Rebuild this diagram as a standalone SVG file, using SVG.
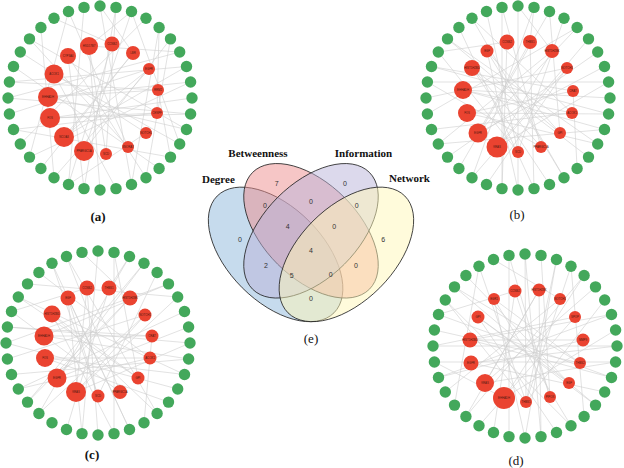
<svg xmlns="http://www.w3.org/2000/svg" width="624" height="468" viewBox="0 0 624 468">
<style>
.gn{fill:#43a85b}
.rn{fill:#ea4330}
.rl{font-family:"Liberation Sans",Arial,sans-serif;font-size:2.8px;fill:#4a1a10;text-anchor:middle}
.ed line{stroke:#cfcfcf;stroke-width:.6}
.pl{font-family:"Liberation Serif","Times New Roman",serif;font-size:13px;text-anchor:middle;fill:#111}
.vl{font-family:"Liberation Serif","Times New Roman",serif;font-size:11px;font-weight:bold;fill:#111}
.vn{font-family:"Liberation Sans",Arial,sans-serif;font-size:7px;text-anchor:middle;fill:#333}
.ve{stroke:#222;stroke-width:.8;fill-opacity:.5}
</style>
<rect width="624" height="468" fill="#fff"/>

<!-- Panel (a) -->
<g id="panel-a" transform="translate(100,98)">
<g id="a-edges" class="ed">
<line x1="-11" y1="-52" x2="0" y2="92"/><line x1="-11" y1="-52" x2="31.5" y2="-86.5"/><line x1="12" y1="-54" x2="-31.5" y2="86.5"/><line x1="12" y1="-54" x2="-46" y2="-79.7"/><line x1="33" y1="-45" x2="-59.1" y2="70.5"/><line x1="33" y1="-45" x2="0" y2="-92"/><line x1="49" y1="-29" x2="-90.6" y2="16"/><line x1="58" y1="-8" x2="-90.6" y2="-16"/><line x1="58" y1="-8" x2="70.5" y2="59.1"/><line x1="57" y1="15" x2="-86.5" y2="31.5"/><line x1="57" y1="15" x2="59.1" y2="-70.5"/><line x1="46" y1="35" x2="-79.7" y2="-46"/><line x1="28" y1="49" x2="-31.5" y2="-86.5"/><line x1="6" y1="56" x2="16" y2="-90.6"/><line x1="-16" y1="53" x2="70.5" y2="-59.1"/><line x1="-36" y1="39" x2="86.5" y2="-31.5"/><line x1="-50" y1="20" x2="92" y2="0"/><line x1="-50" y1="20" x2="90.6" y2="16"/><line x1="-52" y1="-1" x2="90.6" y2="-16"/><line x1="-52" y1="-1" x2="86.5" y2="31.5"/><line x1="-46" y1="-24" x2="79.7" y2="46"/><line x1="-46" y1="-24" x2="16" y2="90.6"/><line x1="-32" y1="-42" x2="46" y2="79.7"/><line x1="-32" y1="-42" x2="-16" y2="90.6"/><line x1="-11" y1="-52" x2="6" y2="56"/><line x1="-52" y1="-1" x2="58" y2="-8"/><line x1="-50" y1="20" x2="57" y2="15"/><line x1="-36" y1="39" x2="49" y2="-29"/><line x1="0" y1="-92" x2="31.5" y2="86.5"/><line x1="-16" y1="-90.6" x2="-31.5" y2="86.5"/><line x1="46" y1="-79.7" x2="-79.7" y2="46"/><line x1="79.7" y1="-46" x2="-92" y2="0"/><line x1="-86.5" y1="-31.5" x2="59.1" y2="70.5"/><line x1="-70.5" y1="-59.1" x2="86.5" y2="31.5"/><line x1="-59.1" y1="-70.5" x2="-46" y2="79.7"/><line x1="31.5" y1="-86.5" x2="79.7" y2="46"/><line x1="16" y1="-90.6" x2="-16" y2="90.6"/><line x1="31.5" y1="86.5" x2="59.1" y2="-70.5"/><line x1="-70.5" y1="59.1" x2="90.6" y2="-16"/><line x1="-86.5" y1="31.5" x2="70.5" y2="59.1"/><line x1="-92" y1="0" x2="90.6" y2="16"/><line x1="-31.5" y1="-86.5" x2="-70.5" y2="59.1"/><line x1="49" y1="-29" x2="-46" y2="79.7"/><line x1="46" y1="35" x2="-31.5" y2="86.5"/><line x1="28" y1="49" x2="-70.5" y2="-59.1"/><line x1="-16" y1="53" x2="31.5" y2="-86.5"/><line x1="33" y1="-45" x2="-36" y2="39"/><line x1="-11" y1="-52" x2="79.7" y2="-46"/><line x1="70.5" y1="-59.1" x2="46" y2="79.7"/><line x1="-90.6" y1="-16" x2="86.5" y2="-31.5"/>
</g>
<g id="a-o0"><circle class="gn" cx="0" cy="-92" r="5.7"/></g>
<g id="a-o1"><circle class="gn" cx="16" cy="-90.6" r="5.7"/></g>
<g id="a-o2"><circle class="gn" cx="31.5" cy="-86.5" r="5.7"/></g>
<g id="a-o3"><circle class="gn" cx="46" cy="-79.7" r="5.7"/></g>
<g id="a-o4"><circle class="gn" cx="59.1" cy="-70.5" r="5.7"/></g>
<g id="a-o5"><circle class="gn" cx="70.5" cy="-59.1" r="5.7"/></g>
<g id="a-o6"><circle class="gn" cx="79.7" cy="-46" r="5.7"/></g>
<g id="a-o7"><circle class="gn" cx="86.5" cy="-31.5" r="5.7"/></g>
<g id="a-o8"><circle class="gn" cx="90.6" cy="-16" r="5.7"/></g>
<g id="a-o9"><circle class="gn" cx="92" cy="0" r="5.7"/></g>
<g id="a-o10"><circle class="gn" cx="90.6" cy="16" r="5.7"/></g>
<g id="a-o11"><circle class="gn" cx="86.5" cy="31.5" r="5.7"/></g>
<g id="a-o12"><circle class="gn" cx="79.7" cy="46" r="5.7"/></g>
<g id="a-o13"><circle class="gn" cx="70.5" cy="59.1" r="5.7"/></g>
<g id="a-o14"><circle class="gn" cx="59.1" cy="70.5" r="5.7"/></g>
<g id="a-o15"><circle class="gn" cx="46" cy="79.7" r="5.7"/></g>
<g id="a-o16"><circle class="gn" cx="31.5" cy="86.5" r="5.7"/></g>
<g id="a-o17"><circle class="gn" cx="16" cy="90.6" r="5.7"/></g>
<g id="a-o18"><circle class="gn" cx="0" cy="92" r="5.7"/></g>
<g id="a-o19"><circle class="gn" cx="-16" cy="90.6" r="5.7"/></g>
<g id="a-o20"><circle class="gn" cx="-31.5" cy="86.5" r="5.7"/></g>
<g id="a-o21"><circle class="gn" cx="-46" cy="79.7" r="5.7"/></g>
<g id="a-o22"><circle class="gn" cx="-59.1" cy="70.5" r="5.7"/></g>
<g id="a-o23"><circle class="gn" cx="-70.5" cy="59.1" r="5.7"/></g>
<g id="a-o24"><circle class="gn" cx="-79.7" cy="46" r="5.7"/></g>
<g id="a-o25"><circle class="gn" cx="-86.5" cy="31.5" r="5.7"/></g>
<g id="a-o26"><circle class="gn" cx="-90.6" cy="16" r="5.7"/></g>
<g id="a-o27"><circle class="gn" cx="-92" cy="0" r="5.7"/></g>
<g id="a-o28"><circle class="gn" cx="-90.6" cy="-16" r="5.7"/></g>
<g id="a-o29"><circle class="gn" cx="-86.5" cy="-31.5" r="5.7"/></g>
<g id="a-o30"><circle class="gn" cx="-79.7" cy="-46" r="5.7"/></g>
<g id="a-o31"><circle class="gn" cx="-70.5" cy="-59.1" r="5.7"/></g>
<g id="a-o32"><circle class="gn" cx="-59.1" cy="-70.5" r="5.7"/></g>
<g id="a-o33"><circle class="gn" cx="-46" cy="-79.7" r="5.7"/></g>
<g id="a-o34"><circle class="gn" cx="-31.5" cy="-86.5" r="5.7"/></g>
<g id="a-o35"><circle class="gn" cx="-16" cy="-90.6" r="5.7"/></g>
<g id="a-r0"><circle class="rn" cx="-11" cy="-52" r="9"/><text class="rl" x="-11" y="-51">HSD17B7</text></g>
<g id="a-r1"><circle class="rn" cx="12" cy="-54" r="7.5"/><text class="rl" x="12" y="-53">CCNB2</text></g>
<g id="a-r2"><circle class="rn" cx="33" cy="-45" r="7"/><text class="rl" x="33" y="-44">LBR</text></g>
<g id="a-r3"><circle class="rn" cx="49" cy="-29" r="6"/><text class="rl" x="49" y="-28">EGFR</text></g>
<g id="a-r4"><circle class="rn" cx="58" cy="-8" r="6"/><text class="rl" x="58" y="-7">RRM2</text></g>
<g id="a-r5"><circle class="rn" cx="57" cy="15" r="6"/><text class="rl" x="57" y="16">CENPF</text></g>
<g id="a-r6"><circle class="rn" cx="46" cy="35" r="6"/><text class="rl" x="46" y="36">NOTCH1</text></g>
<g id="a-r7"><circle class="rn" cx="28" cy="49" r="6"/><text class="rl" x="28" y="50">SNORA7</text></g>
<g id="a-r8"><circle class="rn" cx="6" cy="56" r="6"/><text class="rl" x="6" y="57">SCD</text></g>
<g id="a-r9"><circle class="rn" cx="-16" cy="53" r="10"/><text class="rl" x="-16" y="54">PPARGC1A</text></g>
<g id="a-r10"><circle class="rn" cx="-36" cy="39" r="10"/><text class="rl" x="-36" y="40">NCOA3</text></g>
<g id="a-r11"><circle class="rn" cx="-50" cy="20" r="10"/><text class="rl" x="-50" y="21">FOS</text></g>
<g id="a-r12"><circle class="rn" cx="-52" cy="-1" r="10"/><text class="rl" x="-52" y="0">EHHADH</text></g>
<g id="a-r13"><circle class="rn" cx="-46" cy="-24" r="9.5"/><text class="rl" x="-46" y="-23">ACOX1</text></g>
<g id="a-r14"><circle class="rn" cx="-32" cy="-42" r="8"/><text class="rl" x="-32" y="-41">CYP3A4</text></g>
</g>

<!-- Panel (b) -->
<g id="panel-b" transform="translate(518,98)">
<g id="b-edges" class="ed">
<line x1="-11" y1="-56" x2="-16" y2="90.6"/><line x1="-11" y1="-56" x2="-79.7" y2="-46"/><line x1="12" y1="-56" x2="16" y2="90.6"/><line x1="12" y1="-56" x2="16" y2="-90.6"/><line x1="34" y1="-47" x2="-79.7" y2="46"/><line x1="34" y1="-47" x2="0" y2="-92"/><line x1="49" y1="-30" x2="-92" y2="0"/><line x1="49" y1="-30" x2="-46" y2="79.7"/><line x1="55" y1="-7" x2="-86.5" y2="-31.5"/><line x1="55" y1="-7" x2="59.1" y2="70.5"/><line x1="54" y1="15" x2="-86.5" y2="31.5"/><line x1="54" y1="15" x2="-46" y2="-79.7"/><line x1="42" y1="35" x2="-70.5" y2="-59.1"/><line x1="42" y1="35" x2="31.5" y2="-86.5"/><line x1="23" y1="49" x2="-16" y2="-90.6"/><line x1="0" y1="54" x2="46" y2="-79.7"/><line x1="0" y1="54" x2="-31.5" y2="-86.5"/><line x1="-21" y1="49" x2="70.5" y2="-59.1"/><line x1="-21" y1="49" x2="90.6" y2="-16"/><line x1="-40" y1="35" x2="86.5" y2="-31.5"/><line x1="-40" y1="35" x2="59.1" y2="-70.5"/><line x1="-51" y1="15" x2="90.6" y2="16"/><line x1="-51" y1="15" x2="79.7" y2="46"/><line x1="-55" y1="-8" x2="92" y2="0"/><line x1="-55" y1="-8" x2="86.5" y2="31.5"/><line x1="-46" y1="-30" x2="70.5" y2="59.1"/><line x1="-46" y1="-30" x2="31.5" y2="86.5"/><line x1="-31" y1="-47" x2="46" y2="79.7"/><line x1="-31" y1="-47" x2="0" y2="92"/><line x1="-21" y1="49" x2="34" y2="-47"/><line x1="-40" y1="35" x2="12" y2="-56"/><line x1="-51" y1="15" x2="55" y2="-7"/><line x1="-55" y1="-8" x2="54" y2="15"/><line x1="-46" y1="-30" x2="23" y2="49"/><line x1="-31" y1="-47" x2="42" y2="35"/><line x1="0" y1="-92" x2="0" y2="92"/><line x1="31.5" y1="-86.5" x2="-59.1" y2="70.5"/><line x1="59.1" y1="-70.5" x2="-90.6" y2="16"/><line x1="-46" y1="-79.7" x2="46" y2="79.7"/><line x1="-70.5" y1="-59.1" x2="79.7" y2="46"/><line x1="-90.6" y1="-16" x2="90.6" y2="-16"/><line x1="-16" y1="-90.6" x2="-16" y2="90.6"/><line x1="79.7" y1="-46" x2="-70.5" y2="59.1"/><line x1="16" y1="-90.6" x2="-46" y2="79.7"/><line x1="-86.5" y1="-31.5" x2="90.6" y2="16"/><line x1="-79.7" y1="46" x2="86.5" y2="31.5"/><line x1="-59.1" y1="-70.5" x2="16" y2="90.6"/><line x1="0" y1="54" x2="-79.7" y2="-46"/><line x1="49" y1="-30" x2="-31.5" y2="86.5"/><line x1="23" y1="49" x2="-90.6" y2="-16"/>
</g>
<g id="b-o0"><circle class="gn" cx="0" cy="-92" r="5.7"/></g>
<g id="b-o1"><circle class="gn" cx="16" cy="-90.6" r="5.7"/></g>
<g id="b-o2"><circle class="gn" cx="31.5" cy="-86.5" r="5.7"/></g>
<g id="b-o3"><circle class="gn" cx="46" cy="-79.7" r="5.7"/></g>
<g id="b-o4"><circle class="gn" cx="59.1" cy="-70.5" r="5.7"/></g>
<g id="b-o5"><circle class="gn" cx="70.5" cy="-59.1" r="5.7"/></g>
<g id="b-o6"><circle class="gn" cx="79.7" cy="-46" r="5.7"/></g>
<g id="b-o7"><circle class="gn" cx="86.5" cy="-31.5" r="5.7"/></g>
<g id="b-o8"><circle class="gn" cx="90.6" cy="-16" r="5.7"/></g>
<g id="b-o9"><circle class="gn" cx="92" cy="0" r="5.7"/></g>
<g id="b-o10"><circle class="gn" cx="90.6" cy="16" r="5.7"/></g>
<g id="b-o11"><circle class="gn" cx="86.5" cy="31.5" r="5.7"/></g>
<g id="b-o12"><circle class="gn" cx="79.7" cy="46" r="5.7"/></g>
<g id="b-o13"><circle class="gn" cx="70.5" cy="59.1" r="5.7"/></g>
<g id="b-o14"><circle class="gn" cx="59.1" cy="70.5" r="5.7"/></g>
<g id="b-o15"><circle class="gn" cx="46" cy="79.7" r="5.7"/></g>
<g id="b-o16"><circle class="gn" cx="31.5" cy="86.5" r="5.7"/></g>
<g id="b-o17"><circle class="gn" cx="16" cy="90.6" r="5.7"/></g>
<g id="b-o18"><circle class="gn" cx="0" cy="92" r="5.7"/></g>
<g id="b-o19"><circle class="gn" cx="-16" cy="90.6" r="5.7"/></g>
<g id="b-o20"><circle class="gn" cx="-31.5" cy="86.5" r="5.7"/></g>
<g id="b-o21"><circle class="gn" cx="-46" cy="79.7" r="5.7"/></g>
<g id="b-o22"><circle class="gn" cx="-59.1" cy="70.5" r="5.7"/></g>
<g id="b-o23"><circle class="gn" cx="-70.5" cy="59.1" r="5.7"/></g>
<g id="b-o24"><circle class="gn" cx="-79.7" cy="46" r="5.7"/></g>
<g id="b-o25"><circle class="gn" cx="-86.5" cy="31.5" r="5.7"/></g>
<g id="b-o26"><circle class="gn" cx="-90.6" cy="16" r="5.7"/></g>
<g id="b-o27"><circle class="gn" cx="-92" cy="0" r="5.7"/></g>
<g id="b-o28"><circle class="gn" cx="-90.6" cy="-16" r="5.7"/></g>
<g id="b-o29"><circle class="gn" cx="-86.5" cy="-31.5" r="5.7"/></g>
<g id="b-o30"><circle class="gn" cx="-79.7" cy="-46" r="5.7"/></g>
<g id="b-o31"><circle class="gn" cx="-70.5" cy="-59.1" r="5.7"/></g>
<g id="b-o32"><circle class="gn" cx="-59.1" cy="-70.5" r="5.7"/></g>
<g id="b-o33"><circle class="gn" cx="-46" cy="-79.7" r="5.7"/></g>
<g id="b-o34"><circle class="gn" cx="-31.5" cy="-86.5" r="5.7"/></g>
<g id="b-o35"><circle class="gn" cx="-16" cy="-90.6" r="5.7"/></g>
<g id="b-r0"><circle class="rn" cx="-11" cy="-56" r="7.5"/><text class="rl" x="-11" y="-55">CCNB2</text></g>
<g id="b-r1"><circle class="rn" cx="12" cy="-56" r="7"/><text class="rl" x="12" y="-55">THBS1</text></g>
<g id="b-r2"><circle class="rn" cx="34" cy="-47" r="7"/><text class="rl" x="34" y="-46">HIST1H2BK</text></g>
<g id="b-r3"><circle class="rn" cx="49" cy="-30" r="6"/><text class="rl" x="49" y="-29">NOTCH1</text></g>
<g id="b-r4"><circle class="rn" cx="55" cy="-7" r="6"/><text class="rl" x="55" y="-6">CRAT</text></g>
<g id="b-r5"><circle class="rn" cx="54" cy="15" r="6"/><text class="rl" x="54" y="16">ACOX1</text></g>
<g id="b-r6"><circle class="rn" cx="42" cy="35" r="6"/><text class="rl" x="42" y="36">GPI</text></g>
<g id="b-r7"><circle class="rn" cx="23" cy="49" r="6"/><text class="rl" x="23" y="50">PPARGC1A</text></g>
<g id="b-r8"><circle class="rn" cx="0" cy="54" r="6"/><text class="rl" x="0" y="55">SCD</text></g>
<g id="b-r9"><circle class="rn" cx="-21" cy="49" r="10.5"/><text class="rl" x="-21" y="50">KRAS</text></g>
<g id="b-r10"><circle class="rn" cx="-40" cy="35" r="9.5"/><text class="rl" x="-40" y="36">EGFR</text></g>
<g id="b-r11"><circle class="rn" cx="-51" cy="15" r="9"/><text class="rl" x="-51" y="16">FOS</text></g>
<g id="b-r12"><circle class="rn" cx="-55" cy="-8" r="9"/><text class="rl" x="-55" y="-7">EHHADH</text></g>
<g id="b-r13"><circle class="rn" cx="-46" cy="-30" r="8"/><text class="rl" x="-46" y="-29">HIST1H2BD</text></g>
<g id="b-r14"><circle class="rn" cx="-31" cy="-47" r="6.5"/><text class="rl" x="-31" y="-46">EGF</text></g>
</g>

<!-- Panel (c) -->
<g id="panel-c" transform="translate(98,343)">
<g id="c-edges" class="ed">
<line x1="-11" y1="-55" x2="0" y2="92"/><line x1="-11" y1="-55" x2="-86.5" y2="-31.5"/><line x1="11" y1="-55" x2="-31.5" y2="86.5"/><line x1="11" y1="-55" x2="31.5" y2="-86.5"/><line x1="32" y1="-45" x2="-70.5" y2="59.1"/><line x1="32" y1="-45" x2="-16" y2="-90.6"/><line x1="47" y1="-28" x2="-90.6" y2="16"/><line x1="47" y1="-28" x2="-59.1" y2="70.5"/><line x1="54" y1="-7" x2="-90.6" y2="-16"/><line x1="54" y1="-7" x2="46" y2="79.7"/><line x1="52" y1="15" x2="-79.7" y2="46"/><line x1="52" y1="15" x2="-59.1" y2="-70.5"/><line x1="40" y1="35" x2="-79.7" y2="-46"/><line x1="40" y1="35" x2="16" y2="-90.6"/><line x1="22" y1="49" x2="-31.5" y2="-86.5"/><line x1="0" y1="53" x2="59.1" y2="-70.5"/><line x1="0" y1="53" x2="-46" y2="-79.7"/><line x1="-22" y1="49" x2="79.7" y2="-46"/><line x1="-22" y1="49" x2="92" y2="0"/><line x1="-41" y1="35" x2="90.6" y2="-16"/><line x1="-41" y1="35" x2="46" y2="-79.7"/><line x1="-53" y1="15" x2="86.5" y2="31.5"/><line x1="-53" y1="15" x2="70.5" y2="59.1"/><line x1="-54" y1="-7" x2="90.6" y2="16"/><line x1="-54" y1="-7" x2="70.5" y2="-59.1"/><line x1="-46" y1="-29" x2="59.1" y2="70.5"/><line x1="-46" y1="-29" x2="16" y2="90.6"/><line x1="-30" y1="-45" x2="31.5" y2="86.5"/><line x1="-30" y1="-45" x2="-16" y2="90.6"/><line x1="-22" y1="49" x2="47" y2="-28"/><line x1="-41" y1="35" x2="32" y2="-45"/><line x1="-53" y1="15" x2="52" y2="15"/><line x1="-54" y1="-7" x2="54" y2="-7"/><line x1="-46" y1="-29" x2="40" y2="35"/><line x1="-30" y1="-45" x2="0" y2="53"/><line x1="0" y1="-92" x2="-16" y2="90.6"/><line x1="46" y1="-79.7" x2="-70.5" y2="59.1"/><line x1="70.5" y1="-59.1" x2="-92" y2="0"/><line x1="-31.5" y1="-86.5" x2="59.1" y2="70.5"/><line x1="-79.7" y1="-46" x2="86.5" y2="31.5"/><line x1="-90.6" y1="-16" x2="92" y2="0"/><line x1="16" y1="-90.6" x2="16" y2="90.6"/><line x1="86.5" y1="-31.5" x2="-79.7" y2="46"/><line x1="31.5" y1="-86.5" x2="-59.1" y2="70.5"/><line x1="-92" y1="0" x2="79.7" y2="46"/><line x1="-86.5" y1="31.5" x2="90.6" y2="16"/><line x1="-46" y1="-79.7" x2="31.5" y2="86.5"/><line x1="22" y1="49" x2="-86.5" y2="-31.5"/><line x1="-11" y1="-55" x2="-22" y2="49"/><line x1="-70.5" y1="-59.1" x2="79.7" y2="-46"/>
</g>
<g id="c-o0"><circle class="gn" cx="0" cy="-92" r="5.7"/></g>
<g id="c-o1"><circle class="gn" cx="16" cy="-90.6" r="5.7"/></g>
<g id="c-o2"><circle class="gn" cx="31.5" cy="-86.5" r="5.7"/></g>
<g id="c-o3"><circle class="gn" cx="46" cy="-79.7" r="5.7"/></g>
<g id="c-o4"><circle class="gn" cx="59.1" cy="-70.5" r="5.7"/></g>
<g id="c-o5"><circle class="gn" cx="70.5" cy="-59.1" r="5.7"/></g>
<g id="c-o6"><circle class="gn" cx="79.7" cy="-46" r="5.7"/></g>
<g id="c-o7"><circle class="gn" cx="86.5" cy="-31.5" r="5.7"/></g>
<g id="c-o8"><circle class="gn" cx="90.6" cy="-16" r="5.7"/></g>
<g id="c-o9"><circle class="gn" cx="92" cy="0" r="5.7"/></g>
<g id="c-o10"><circle class="gn" cx="90.6" cy="16" r="5.7"/></g>
<g id="c-o11"><circle class="gn" cx="86.5" cy="31.5" r="5.7"/></g>
<g id="c-o12"><circle class="gn" cx="79.7" cy="46" r="5.7"/></g>
<g id="c-o13"><circle class="gn" cx="70.5" cy="59.1" r="5.7"/></g>
<g id="c-o14"><circle class="gn" cx="59.1" cy="70.5" r="5.7"/></g>
<g id="c-o15"><circle class="gn" cx="46" cy="79.7" r="5.7"/></g>
<g id="c-o16"><circle class="gn" cx="31.5" cy="86.5" r="5.7"/></g>
<g id="c-o17"><circle class="gn" cx="16" cy="90.6" r="5.7"/></g>
<g id="c-o18"><circle class="gn" cx="0" cy="92" r="5.7"/></g>
<g id="c-o19"><circle class="gn" cx="-16" cy="90.6" r="5.7"/></g>
<g id="c-o20"><circle class="gn" cx="-31.5" cy="86.5" r="5.7"/></g>
<g id="c-o21"><circle class="gn" cx="-46" cy="79.7" r="5.7"/></g>
<g id="c-o22"><circle class="gn" cx="-59.1" cy="70.5" r="5.7"/></g>
<g id="c-o23"><circle class="gn" cx="-70.5" cy="59.1" r="5.7"/></g>
<g id="c-o24"><circle class="gn" cx="-79.7" cy="46" r="5.7"/></g>
<g id="c-o25"><circle class="gn" cx="-86.5" cy="31.5" r="5.7"/></g>
<g id="c-o26"><circle class="gn" cx="-90.6" cy="16" r="5.7"/></g>
<g id="c-o27"><circle class="gn" cx="-92" cy="0" r="5.7"/></g>
<g id="c-o28"><circle class="gn" cx="-90.6" cy="-16" r="5.7"/></g>
<g id="c-o29"><circle class="gn" cx="-86.5" cy="-31.5" r="5.7"/></g>
<g id="c-o30"><circle class="gn" cx="-79.7" cy="-46" r="5.7"/></g>
<g id="c-o31"><circle class="gn" cx="-70.5" cy="-59.1" r="5.7"/></g>
<g id="c-o32"><circle class="gn" cx="-59.1" cy="-70.5" r="5.7"/></g>
<g id="c-o33"><circle class="gn" cx="-46" cy="-79.7" r="5.7"/></g>
<g id="c-o34"><circle class="gn" cx="-31.5" cy="-86.5" r="5.7"/></g>
<g id="c-o35"><circle class="gn" cx="-16" cy="-90.6" r="5.7"/></g>
<g id="c-r0"><circle class="rn" cx="-11" cy="-55" r="7.5"/><text class="rl" x="-11" y="-54">CCNB2</text></g>
<g id="c-r1"><circle class="rn" cx="11" cy="-55" r="7.5"/><text class="rl" x="11" y="-54">THBS1</text></g>
<g id="c-r2"><circle class="rn" cx="32" cy="-45" r="7.5"/><text class="rl" x="32" y="-44">HIST1H2BK</text></g>
<g id="c-r3"><circle class="rn" cx="47" cy="-28" r="6.5"/><text class="rl" x="47" y="-27">NOTCH1</text></g>
<g id="c-r4"><circle class="rn" cx="54" cy="-7" r="6.5"/><text class="rl" x="54" y="-6">CRAT</text></g>
<g id="c-r5"><circle class="rn" cx="52" cy="15" r="6.5"/><text class="rl" x="52" y="16">ACOX1</text></g>
<g id="c-r6"><circle class="rn" cx="40" cy="35" r="6.5"/><text class="rl" x="40" y="36">GPI</text></g>
<g id="c-r7"><circle class="rn" cx="22" cy="49" r="7"/><text class="rl" x="22" y="50">PPARGC1A</text></g>
<g id="c-r8"><circle class="rn" cx="0" cy="53" r="6.5"/><text class="rl" x="0" y="54">SCD</text></g>
<g id="c-r9"><circle class="rn" cx="-22" cy="49" r="10"/><text class="rl" x="-22" y="50">KRAS</text></g>
<g id="c-r10"><circle class="rn" cx="-41" cy="35" r="9.5"/><text class="rl" x="-41" y="36">EGFR</text></g>
<g id="c-r11"><circle class="rn" cx="-53" cy="15" r="9"/><text class="rl" x="-53" y="16">FOS</text></g>
<g id="c-r12"><circle class="rn" cx="-54" cy="-7" r="9.5"/><text class="rl" x="-54" y="-6">EHHADH</text></g>
<g id="c-r13"><circle class="rn" cx="-46" cy="-29" r="8.5"/><text class="rl" x="-46" y="-28">HIST1H2BD</text></g>
<g id="c-r14"><circle class="rn" cx="-30" cy="-45" r="7.5"/><text class="rl" x="-30" y="-44">EGF</text></g>
</g>

<!-- Panel (d) -->
<g id="panel-d" transform="translate(525,346)">
<g id="d-edges" class="ed">
<line x1="-55" y1="-6" x2="58" y2="-6"/><line x1="1" y1="56" x2="0" y2="-92"/><line x1="1" y1="56" x2="46" y2="-79.7"/><line x1="1" y1="56" x2="-46" y2="-79.7"/><line x1="1" y1="56" x2="79.7" y2="-46"/><line x1="1" y1="56" x2="-79.7" y2="-46"/><line x1="1" y1="56" x2="31.5" y2="-86.5"/><line x1="-21" y1="52" x2="90.6" y2="-16"/><line x1="-21" y1="52" x2="-90.6" y2="16"/><line x1="-40" y1="37" x2="90.6" y2="16"/><line x1="-40" y1="37" x2="70.5" y2="-59.1"/><line x1="-54" y1="17" x2="92" y2="0"/><line x1="-54" y1="17" x2="79.7" y2="46"/><line x1="-55" y1="-6" x2="86.5" y2="31.5"/><line x1="-55" y1="-6" x2="86.5" y2="-31.5"/><line x1="-47" y1="-29" x2="70.5" y2="59.1"/><line x1="-47" y1="-29" x2="31.5" y2="86.5"/><line x1="-31" y1="-47" x2="46" y2="79.7"/><line x1="-31" y1="-47" x2="0" y2="92"/><line x1="-10" y1="-55" x2="-31.5" y2="86.5"/><line x1="-10" y1="-55" x2="-86.5" y2="-31.5"/><line x1="14" y1="-56" x2="-59.1" y2="70.5"/><line x1="14" y1="-56" x2="16" y2="90.6"/><line x1="35" y1="-47" x2="-79.7" y2="46"/><line x1="35" y1="-47" x2="-31.5" y2="-86.5"/><line x1="50" y1="-29" x2="-92" y2="0"/><line x1="50" y1="-29" x2="-46" y2="79.7"/><line x1="58" y1="-6" x2="-86.5" y2="31.5"/><line x1="55" y1="17" x2="-90.6" y2="-16"/><line x1="55" y1="17" x2="-70.5" y2="-59.1"/><line x1="44" y1="37" x2="-59.1" y2="-70.5"/><line x1="25" y1="51" x2="-16" y2="-90.6"/><line x1="25" y1="51" x2="16" y2="-90.6"/><line x1="0" y1="-92" x2="16" y2="90.6"/><line x1="59.1" y1="-70.5" x2="-59.1" y2="70.5"/><line x1="-70.5" y1="-59.1" x2="70.5" y2="59.1"/><line x1="-92" y1="0" x2="92" y2="0"/><line x1="-86.5" y1="-31.5" x2="86.5" y2="31.5"/><line x1="-86.5" y1="31.5" x2="86.5" y2="-31.5"/><line x1="-16" y1="-90.6" x2="-16" y2="90.6"/><line x1="46" y1="-79.7" x2="59.1" y2="70.5"/><line x1="-46" y1="-79.7" x2="-70.5" y2="59.1"/><line x1="-47" y1="-29" x2="44" y2="37"/><line x1="-10" y1="-55" x2="25" y2="51"/><line x1="-31" y1="-47" x2="55" y2="17"/><line x1="-90.6" y1="16" x2="90.6" y2="16"/><line x1="31.5" y1="-86.5" x2="0" y2="92"/><line x1="-21" y1="52" x2="59.1" y2="-70.5"/><line x1="-40" y1="37" x2="14" y2="-56"/><line x1="-79.7" y1="-46" x2="46" y2="79.7"/>
</g>
<g id="d-o0"><circle class="gn" cx="0" cy="-92" r="5.7"/></g>
<g id="d-o1"><circle class="gn" cx="16" cy="-90.6" r="5.7"/></g>
<g id="d-o2"><circle class="gn" cx="31.5" cy="-86.5" r="5.7"/></g>
<g id="d-o3"><circle class="gn" cx="46" cy="-79.7" r="5.7"/></g>
<g id="d-o4"><circle class="gn" cx="59.1" cy="-70.5" r="5.7"/></g>
<g id="d-o5"><circle class="gn" cx="70.5" cy="-59.1" r="5.7"/></g>
<g id="d-o6"><circle class="gn" cx="79.7" cy="-46" r="5.7"/></g>
<g id="d-o7"><circle class="gn" cx="86.5" cy="-31.5" r="5.7"/></g>
<g id="d-o8"><circle class="gn" cx="90.6" cy="-16" r="5.7"/></g>
<g id="d-o9"><circle class="gn" cx="92" cy="0" r="5.7"/></g>
<g id="d-o10"><circle class="gn" cx="90.6" cy="16" r="5.7"/></g>
<g id="d-o11"><circle class="gn" cx="86.5" cy="31.5" r="5.7"/></g>
<g id="d-o12"><circle class="gn" cx="79.7" cy="46" r="5.7"/></g>
<g id="d-o13"><circle class="gn" cx="70.5" cy="59.1" r="5.7"/></g>
<g id="d-o14"><circle class="gn" cx="59.1" cy="70.5" r="5.7"/></g>
<g id="d-o15"><circle class="gn" cx="46" cy="79.7" r="5.7"/></g>
<g id="d-o16"><circle class="gn" cx="31.5" cy="86.5" r="5.7"/></g>
<g id="d-o17"><circle class="gn" cx="16" cy="90.6" r="5.7"/></g>
<g id="d-o18"><circle class="gn" cx="0" cy="92" r="5.7"/></g>
<g id="d-o19"><circle class="gn" cx="-16" cy="90.6" r="5.7"/></g>
<g id="d-o20"><circle class="gn" cx="-31.5" cy="86.5" r="5.7"/></g>
<g id="d-o21"><circle class="gn" cx="-46" cy="79.7" r="5.7"/></g>
<g id="d-o22"><circle class="gn" cx="-59.1" cy="70.5" r="5.7"/></g>
<g id="d-o23"><circle class="gn" cx="-70.5" cy="59.1" r="5.7"/></g>
<g id="d-o24"><circle class="gn" cx="-79.7" cy="46" r="5.7"/></g>
<g id="d-o25"><circle class="gn" cx="-86.5" cy="31.5" r="5.7"/></g>
<g id="d-o26"><circle class="gn" cx="-90.6" cy="16" r="5.7"/></g>
<g id="d-o27"><circle class="gn" cx="-92" cy="0" r="5.7"/></g>
<g id="d-o28"><circle class="gn" cx="-90.6" cy="-16" r="5.7"/></g>
<g id="d-o29"><circle class="gn" cx="-86.5" cy="-31.5" r="5.7"/></g>
<g id="d-o30"><circle class="gn" cx="-79.7" cy="-46" r="5.7"/></g>
<g id="d-o31"><circle class="gn" cx="-70.5" cy="-59.1" r="5.7"/></g>
<g id="d-o32"><circle class="gn" cx="-59.1" cy="-70.5" r="5.7"/></g>
<g id="d-o33"><circle class="gn" cx="-46" cy="-79.7" r="5.7"/></g>
<g id="d-o34"><circle class="gn" cx="-31.5" cy="-86.5" r="5.7"/></g>
<g id="d-o35"><circle class="gn" cx="-16" cy="-90.6" r="5.7"/></g>
<g id="d-r0"><circle class="rn" cx="-10" cy="-55" r="6.5"/><text class="rl" x="-10" y="-54">CCNB2</text></g>
<g id="d-r1"><circle class="rn" cx="14" cy="-56" r="6.5"/><text class="rl" x="14" y="-55">HIST1H2BK</text></g>
<g id="d-r2"><circle class="rn" cx="35" cy="-47" r="6"/><text class="rl" x="35" y="-46">NOTCH1</text></g>
<g id="d-r3"><circle class="rn" cx="50" cy="-29" r="6"/><text class="rl" x="50" y="-28">SPOP</text></g>
<g id="d-r4"><circle class="rn" cx="58" cy="-6" r="6.5"/><text class="rl" x="58" y="-5">MMP9</text></g>
<g id="d-r5"><circle class="rn" cx="55" cy="17" r="6"/><text class="rl" x="55" y="18">THBS2</text></g>
<g id="d-r6"><circle class="rn" cx="44" cy="37" r="6"/><text class="rl" x="44" y="38">EGF</text></g>
<g id="d-r7"><circle class="rn" cx="25" cy="51" r="6"/><text class="rl" x="25" y="52">PIPOX</text></g>
<g id="d-r8"><circle class="rn" cx="1" cy="56" r="6"/><text class="rl" x="1" y="57">THBS1</text></g>
<g id="d-r9"><circle class="rn" cx="-21" cy="52" r="11"/><text class="rl" x="-21" y="53">EHHADH</text></g>
<g id="d-r10"><circle class="rn" cx="-40" cy="37" r="9"/><text class="rl" x="-40" y="38">KRAS</text></g>
<g id="d-r11"><circle class="rn" cx="-54" cy="17" r="7.5"/><text class="rl" x="-54" y="18">EGFR</text></g>
<g id="d-r12"><circle class="rn" cx="-55" cy="-6" r="7.5"/><text class="rl" x="-55" y="-5">HIST1H2BD</text></g>
<g id="d-r13"><circle class="rn" cx="-47" cy="-29" r="6.5"/><text class="rl" x="-47" y="-28">GPI</text></g>
<g id="d-r14"><circle class="rn" cx="-31" cy="-47" r="6"/><text class="rl" x="-31" y="-46">EGR1</text></g>
</g>

<!-- Venn (e) -->
<g id="venn">
<g id="set-degree"><ellipse class="ve" cx="275.6" cy="254.4" rx="82.6" ry="47.2" transform="rotate(45 275.6 254.4)" fill="#8db7db"/></g>
<g id="set-betweenness"><ellipse class="ve" cx="311" cy="230.8" rx="82.6" ry="47.2" transform="rotate(45 311 230.8)" fill="#ed8d8d"/></g>
<g id="set-information"><ellipse class="ve" cx="311" cy="230.8" rx="82.6" ry="47.2" transform="rotate(-45 311 230.8)" fill="#b9b3d9"/></g>
<g id="set-network"><ellipse class="ve" cx="346.4" cy="254.4" rx="82.6" ry="47.2" transform="rotate(-45 346.4 254.4)" fill="#fff7b7"/></g>
<text class="vl" x="258" y="157" text-anchor="middle">Betweenness</text>
<text class="vl" x="363.5" y="157" text-anchor="middle">Information</text>
<text class="vl" x="202" y="183">Degree</text>
<text class="vl" x="389" y="182">Network</text>
<text class="vn" x="276.7" y="185.8">7</text>
<text class="vn" x="345" y="185.8">0</text>
<text class="vn" x="265" y="207.5">0</text>
<text class="vn" x="311" y="204.2">0</text>
<text class="vn" x="356.7" y="207.5">0</text>
<text class="vn" x="240" y="241.8">0</text>
<text class="vn" x="287.7" y="229.2">4</text>
<text class="vn" x="334.3" y="229.2">0</text>
<text class="vn" x="383.3" y="241.8">6</text>
<text class="vn" x="311" y="253.2">4</text>
<text class="vn" x="266" y="267.5">2</text>
<text class="vn" x="356" y="267.5">0</text>
<text class="vn" x="291.7" y="277.5">5</text>
<text class="vn" x="330.7" y="276.5">0</text>
<text class="vn" x="311" y="300.8">0</text>
</g>

<!-- Panel labels -->
<text class="pl" x="98" y="221" font-weight="bold">(a)</text>
<text class="pl" x="517" y="219">(b)</text>
<text class="pl" x="92" y="459" font-weight="bold">(c)</text>
<text class="pl" x="516" y="465">(d)</text>
<text class="pl" x="311" y="343">(e)</text>
</svg>
